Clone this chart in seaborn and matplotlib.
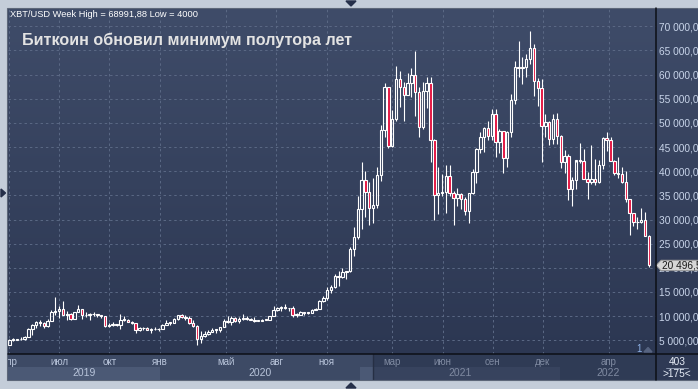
import numpy as np
import pandas as pd
import matplotlib
matplotlib.use("Agg")
import matplotlib.pyplot as plt
from matplotlib.patches import Polygon, Rectangle
from matplotlib.lines import Line2D
from matplotlib.colors import LinearSegmentedColormap
import seaborn as sns

# ---- data: XBT/USD weekly candles ----
week_start = "2019-04-01"
opens = [4100, 5050, 5150, 5300, 5200, 5750, 7250, 8150, 8700, 8550,
         7950, 8950, 10800, 11000, 11400, 10200, 10500, 9500, 10800, 11400,
         10300, 10150, 10400, 10450, 10300, 10050, 8050, 8200, 8300, 8250,
         9200, 9300, 8800, 8500, 7050, 7450, 7500, 7150, 7350, 7300,
         7350, 8200, 8650, 8600, 9350, 10150, 9900, 9650, 8550, 8050,
         5350, 5850, 6250, 6800, 7100, 7150, 7700, 8900, 8700, 9700,
         8900, 9450, 9650, 9350, 9300, 9000, 9050, 9250, 9200, 9950,
         11200, 11700, 11900, 11650, 11700, 10250, 10300, 10950, 10750, 10650,
         11350, 11500, 13050, 13750, 15450, 15950, 18400, 18200, 19200, 19250,
         23800, 26300, 32200, 38200, 35800, 32300, 33100, 39200, 48600, 57400,
         45200, 50900, 59000, 57400, 55800, 58200, 59900, 56300, 49100, 56600,
         58200, 46400, 35100, 35500, 35800, 39000, 35400, 34500, 35300, 34250,
         31800, 35400, 39800, 44600, 47000, 48900, 47200, 51800, 46000, 48300,
         42800, 48200, 54700, 61500, 61300, 61500, 63300, 65500, 58600, 57200,
         49400, 50100, 46700, 50800, 47300, 41900, 43100, 36300, 38200, 42400,
         42200, 38400, 37700, 38400, 37800, 41300, 46800, 46400, 42200, 39700,
         39500, 37700, 34300, 31300, 29400, 29500, 29900, 26600]
highs = [5300, 5450, 5350, 5650, 5900, 7500, 8350, 8950, 9100, 8800,
         9400, 11200, 13900, 12000, 13200, 11100, 10650, 10950, 12300, 11450,
         10950, 10650, 10900, 10500, 10300, 10050, 8500, 8800, 8450, 10500,
         9950, 9450, 9000, 8600, 7850, 7750, 7650, 7500, 7650, 7550,
         8450, 9200, 8800, 9600, 10150, 10500, 10300, 9950, 9200, 8200,
         7000, 7000, 7150, 7450, 7300, 7800, 9450, 10000, 9950, 9850,
         9750, 10400, 9950, 9600, 9750, 9300, 9450, 9300, 10100, 12100,
         11900, 12100, 12450, 11750, 12100, 10600, 11150, 10950, 10950, 11450,
         11700, 13250, 14100, 15950, 16450, 18800, 19400, 19900, 19400, 24300,
         28400, 34800, 41950, 40100, 37800, 38500, 40950, 49600, 58300, 57500,
         52600, 61800, 60700, 58400, 60300, 61300, 64900, 57500, 58500, 59500,
         59600, 46700, 40900, 39500, 41300, 41300, 36000, 36600, 35500, 34700,
         35400, 40500, 44800, 48100, 49200, 50500, 52900, 52800, 48800, 48300,
         48400, 56000, 62900, 67000, 63700, 64300, 69000, 66300, 59400, 59100,
         51900, 50500, 51900, 52100, 47600, 44400, 43500, 38900, 42000, 45800,
         44700, 39800, 45400, 42600, 42300, 47000, 48200, 47100, 42400, 42900,
         40800, 40000, 34300, 31300, 30600, 32300, 31600, 26900]
lows = [4050, 4900, 5000, 5050, 5150, 5700, 6200, 7500, 8000, 7450,
        7700, 8950, 10300, 9700, 11000, 9100, 9200, 9400, 10800, 9500,
        9850, 9300, 10050, 9900, 9600, 7800, 7750, 7950, 7900, 7300,
        9050, 8700, 8400, 6550, 6850, 7050, 7100, 6450, 7100, 6900,
        7350, 8100, 8250, 8550, 9100, 9700, 9300, 8450, 7850, 4000,
        4450, 5700, 6100, 6750, 6500, 6800, 7650, 8600, 8150, 8800,
        8650, 9300, 9250, 9250, 8850, 8950, 9050, 9100, 9150, 9950,
        11000, 11150, 11500, 11100, 9900, 9900, 10250, 10150, 10400, 10550,
        11200, 11400, 12950, 13300, 14850, 15800, 16200, 18000, 17600, 19050,
        22400, 25950, 28100, 30500, 28900, 29300, 32300, 38000, 47000, 44900,
        45000, 50300, 53300, 50400, 55700, 55450, 51500, 47000, 48800, 53000,
        42000, 30000, 31200, 34800, 31300, 34800, 28800, 32700, 32100, 31000,
        29300, 35200, 37500, 43800, 43900, 46400, 46500, 43000, 43800, 39600,
        40800, 47000, 53900, 59500, 58000, 59500, 62300, 55600, 53500, 42000,
        47100, 45500, 45600, 45700, 40600, 39700, 34000, 32900, 36300, 41700,
        39600, 34300, 37400, 37200, 37600, 40500, 44200, 42100, 39200, 38600,
        37600, 33700, 26700, 28700, 28000, 29300, 26500, 20100]
closes = [5050, 5150, 5300, 5200, 5750, 7250, 8150, 8700, 8550, 7950,
          8950, 10800, 11000, 11400, 10200, 10500, 9500, 10800, 11400, 10300,
          10150, 10400, 10450, 10300, 10050, 8050, 8200, 8300, 8250, 9200,
          9300, 8800, 8500, 7050, 7450, 7500, 7150, 7350, 7300, 7350,
          8200, 8650, 8600, 9350, 10150, 9900, 9650, 8550, 8050, 5350,
          5850, 6250, 6800, 7100, 7150, 7700, 8900, 8700, 9700, 8900,
          9450, 9650, 9350, 9300, 9000, 9050, 9250, 9200, 9950, 11200,
          11700, 11900, 11650, 11700, 10250, 10300, 10950, 10750, 10650, 11350,
          11500, 13050, 13750, 15450, 15950, 18400, 18200, 19200, 19250, 23800,
          26300, 32200, 38200, 35800, 32300, 33100, 39200, 48600, 57400, 45200,
          50900, 59000, 57400, 55800, 58200, 59900, 56300, 49100, 56600, 58200,
          46400, 35100, 35500, 35800, 39000, 35400, 34500, 35300, 34250, 31800,
          35400, 39800, 44600, 47000, 48900, 47200, 51800, 46000, 48300, 42800,
          48200, 54700, 61500, 61300, 61500, 63300, 65500, 58600, 57200, 49400,
          50100, 46700, 50800, 47300, 41900, 43100, 36300, 38200, 42400, 42200,
          38400, 37700, 38400, 37800, 41300, 46800, 46400, 42200, 39700, 39500,
          37700, 34300, 31300, 29400, 29500, 29900, 26600, 20496.5]

month_ticks = ["2019-04-01", "2019-07-01", "2019-10-01", "2020-01-01", "2020-05-01",
               "2020-08-01", "2020-11-01", "2021-03-01", "2021-06-01", "2021-09-01",
               "2021-12-01", "2022-04-01"]
month_labels = ["апр", "июл", "окт", "янв", "май", "авг", "ноя",
                "мар", "июн", "сен", "дек", "апр"]
years = [2019, 2020, 2021, 2022]
price_ticks = [5000, 10000, 15000, 20000, 25000, 30000, 35000,
               40000, 45000, 50000, 55000, 60000, 65000, 70000]

header = "XBT/USD Week High = 68991,88 Low = 4000"
title = "Биткоин обновил минимум полутора лет"
bars_total = "403"
bars_shown = ">175<"

sns.set_style("dark")
plt.rcParams["font.family"] = ["Liberation Sans", "DejaVu Sans"]

df = pd.DataFrame({
    "date": pd.date_range(week_start, periods=len(closes), freq="7D"),
    "open": opens, "high": highs, "low": lows, "close": closes,
})
t0 = df["date"].iloc[0]
df["x"] = (df["date"] - t0).dt.days / 7


def date_x(d):
    return (pd.Timestamp(d) - t0).days / 7


W, H = 698, 389


def box(l, t, r, b):
    return [l / W, 1 - b / H, (r - l) / W, (b - t) / H]


def fpt(x, y):
    return (x / W, 1 - y / H)


def price_fmt(v, _=None):
    return f"{v:,.2f}".replace(",", " ").replace(".", ",")


fig = plt.figure(figsize=(W / 100, H / 100), dpi=100, facecolor="#c4cdd9")

# gradient panel behind chart and price scale
bg = fig.add_axes(box(8, 8, 698, 354))
grad = np.linspace(0, 1, 256).reshape(-1, 1)
cmap = LinearSegmentedColormap.from_list("panel", ["#3f4c69", "#2c3752"])
bg.imshow(grad, aspect="auto", cmap=cmap, extent=[0, 1, 0, 1])
bg.axis("off")

ax = fig.add_axes(box(8, 8, 655.7, 354))
ax.patch.set_alpha(0)
xlim = (-0.34, 168.8)
ylim = (2164, 73790)
ax.set_xlim(*xlim)
ax.set_ylim(*ylim)

# candles
up = df["close"] >= df["open"]
body_lo = df[["open", "close"]].min(axis=1)
body_hi = df[["open", "close"]].max(axis=1)
body_h = np.maximum(body_hi - body_lo, 140)
ax.vlines(df["x"], body_hi, df["high"], color="white", lw=0.8, zorder=3)
ax.vlines(df["x"], df["low"], body_lo, color="white", lw=0.8, zorder=3)
ax.bar(df["x"][up], body_h[up], bottom=body_lo[up], width=0.64,
       facecolor="none", edgecolor="white", linewidth=0.8, zorder=4)
ax.bar(df["x"][~up], body_h[~up], bottom=body_lo[~up], width=0.64,
       facecolor="#e3123f", edgecolor="white", linewidth=0.8, zorder=4)

tick_x = [date_x(d) for d in month_ticks]
ax.set_xticks(tick_x)
ax.set_yticks(price_ticks)
ax.grid(True, color="#5b6985", linestyle=(0, (2.5, 3)), lw=0.7)
ax.set_axisbelow(True)
ax.tick_params(axis="x", length=0, labelbottom=False)
ax.yaxis.tick_right()
ax.yaxis.set_major_formatter(plt.FuncFormatter(price_fmt))
ax.tick_params(axis="y", length=0, pad=2.5, labelsize=7.3, labelcolor="#c9d5ea")
for s in ax.spines.values():
    s.set_visible(False)

# time scale strip
bax = fig.add_axes(box(8, 354, 655.7, 380))
bax.set_xlim(*xlim)
bax.set_ylim(380, 354)
bax.set_facecolor("#3d4a65")
bax.set_xticks([])
bax.set_yticks([])
for s in bax.spines.values():
    s.set_visible(False)
shade_start = date_x("2021-01-25")
for i, yr in enumerate(years):
    a, b = date_x(f"{yr}-01-01"), date_x(f"{yr + 1}-01-01")
    if i % 2 == 0:
        bax.add_patch(Rectangle((a, 367), b - a, 13, color="#4b5975", lw=0))
bax.add_patch(Rectangle((shade_start, 354), xlim[1] - shade_start, 26,
                        color="#1f2942", alpha=0.45, lw=0))
bax.axvline(shade_start, color="#262f44", lw=1)
for xv, lab in zip(tick_x, month_labels):
    c = "#7f8aa1" if xv > shade_start else "#b8c4da"
    bax.text(xv, 362.5, lab, ha="center", va="center", fontsize=7, color=c, clip_on=True)
for yr in years:
    a = max(date_x(f"{yr}-01-01"), xlim[0])
    b = min(date_x(f"{yr + 1}-01-01"), xlim[1])
    c = "#7f8aa1" if (a + b) / 2 > shade_start else "#b8c4da"
    bax.text((a + b) / 2, 373.5, str(yr), ha="center", va="center", fontsize=7.5, color=c)

# right-bottom counter box
fig.patches.append(Rectangle(fpt(656, 380), 42 / W, 26 / H, transform=fig.transFigure,
                             color="#2f3a55", lw=0))
fig.text(*fpt(677, 362), bars_total, ha="center", va="center", fontsize=7.3, color="#e8eef8")
fig.text(*fpt(677, 374), bars_shown, ha="center", va="center", fontsize=7.3, color="#e8eef8")
fig.lines.append(Line2D([666 / W, 688 / W], [1 - 367.5 / H] * 2, transform=fig.transFigure,
                        color="#9aa6bd", lw=0.6))

# separators
fig.lines.append(Line2D([655.7 / W] * 2, [1 - 8 / H, 1 - 380 / H], transform=fig.transFigure,
                        color="#0c0f16", lw=1.1))
fig.lines.append(Line2D([8 / W, 1], [1 - 354 / H] * 2, transform=fig.transFigure,
                        color="#0c0f16", lw=1.1))
fig.patches.append(Rectangle(fpt(7.5, 380), 690.5 / W, 372 / H, transform=fig.transFigure,
                             fill=False, edgecolor="#5d6779", lw=0.8))

# last price tag
last = df["close"].iloc[-1]
yp = 8 + (ylim[1] - last) / (ylim[1] - ylim[0]) * 346
tag = [(656, yp), (661, yp - 5.3), (698, yp - 5.3), (698, yp + 5.3), (661, yp + 5.3)]
fig.patches.append(Polygon([fpt(*p) for p in tag], closed=True, transform=fig.transFigure,
                           facecolor="#d6d6d6", edgecolor="#8c8c8c", lw=0.6))
fig.text(*fpt(662, yp), price_fmt(last)[:-1], ha="left", va="center", fontsize=7.3, color="#1a1a1a")

# header and title
fig.text(*fpt(10, 14.5), header, ha="left", va="center", fontsize=6.7, color="white")
fig.text(*fpt(22, 40), title, ha="left", va="center", fontsize=11.6,
         fontweight="bold", color="#e3e3e3")
fig.text(*fpt(639, 349), "1", ha="center", va="center", fontsize=7, color="#8fb2e6")
fig.patches.append(Polygon([fpt(644, 352), fpt(652, 352), fpt(648, 347.5)], closed=True,
                           transform=fig.transFigure, color="#566380"))

# small navigation triangles on the frame
for pts in ([(346, 1), (356, 1), (351, 6)], [(346, 388), (356, 388), (351, 383)],
            [(1, 189), (1, 197), (5.5, 193)]):
    fig.patches.append(Polygon([fpt(*p) for p in pts], closed=True,
                               transform=fig.transFigure, color="#26304a"))

fig.savefig("out.png", dpi=100, facecolor=fig.get_facecolor())
